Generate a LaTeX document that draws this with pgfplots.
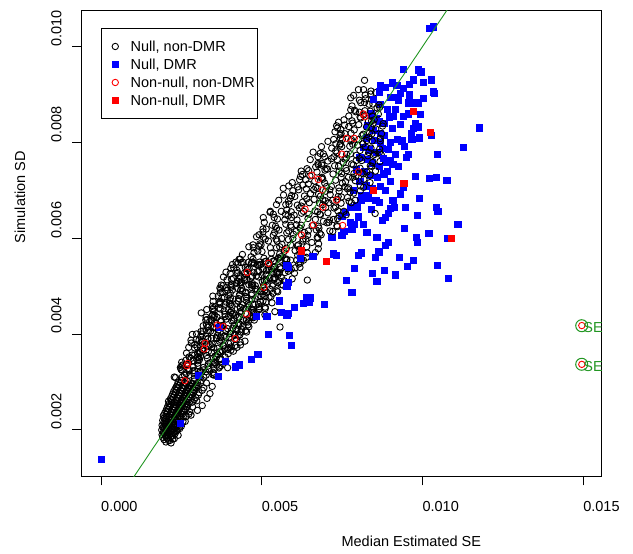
\documentclass[border=0pt]{standalone}
\usepackage{pgfplots}
\pgfplotsset{compat=1.18}
\usepackage{fontspec}
\setmainfont{Liberation Sans}
\definecolor{rgreen}{RGB}{34,150,34}
\definecolor{rblue}{RGB}{0,0,255}
\definecolor{rred}{RGB}{255,0,0}
\begin{document}
\begin{tikzpicture}[font=\fontsize{14.5bp}{17bp}\selectfont]
\path[use as bounding box] (0,0) rectangle (633bp,554bp);
\begin{axis}[
  at={(81.3bp,77.5bp)}, anchor=south west,
  scale only axis, width=520.2bp, height=466.2bp,
  xmin=-0.000613, xmax=0.015573, ymin=0.001029, ymax=0.010762,
  scaled ticks=false,
  axis line style={line width=1bp, black},
  xtick={0,0.005,0.01,0.015}, xticklabels={0.000,0.005,0.010,0.015},
  ytick={0.002,0.004,0.006,0.008,0.01}, yticklabels={0.002,0.004,0.006,0.008,0.010},
  tick pos=left, tick align=outside, major tick length=9bp,
  every tick/.style={black, line width=1bp},
  xticklabel style={anchor=north west, inner sep=0pt},
  yticklabel style={rotate=90, anchor=south west, inner sep=0pt},
  xticklabel shift=15.5bp, yticklabel shift=10.5bp,
  xlabel={Median Estimated SE}, ylabel={Simulation SD},
  xlabel style={at={(axis description cs:0.5,-0.1384)}, anchor=west, inner sep=0pt},
  ylabel style={at={(axis description cs:-0.1178,0.5)}, anchor=west, inner sep=0pt},
  legend style={at={(axis description cs:0.0379,0.9614)}, anchor=north west, draw=black, line width=1bp, fill=white, inner xsep=0pt, inner ysep=8.7bp, row sep=0pt, nodes={inner sep=0pt, text height=14.2bp, text depth=3.8bp}},
  legend cell align=left,
  legend image code/.code={\draw[#1] plot coordinates {(13.3bp,0bp)}; \path (0bp,0bp) (28.3bp,0bp);},
  clip mode=individual,
]
% Null, DMR points lying inside the dense cloud (drawn first)
\addplot[only marks, mark=square*, mark size=3.1bp, color=rblue, line width=0.5bp, forget plot] coordinates {
(0.00840,0.00860)(0.00855,0.00850)(0.00865,0.00845)(0.00830,0.00835)(0.00848,0.00825)(0.00870,0.00820)(0.00825,0.00810)(0.00850,0.00805)(0.00868,0.00800)(0.00882,0.00815)
(0.00815,0.00790)(0.00835,0.00785)(0.00858,0.00780)(0.00875,0.00788)(0.00805,0.00770)(0.00828,0.00765)(0.00845,0.00758)(0.00865,0.00750)(0.00885,0.00760)(0.00795,0.00745)
(0.00818,0.00740)(0.00838,0.00732)(0.00860,0.00728)(0.00880,0.00735)(0.00805,0.00720)(0.00825,0.00710)(0.00845,0.00705)(0.00785,0.00700)(0.00810,0.00690)(0.00830,0.00685)
(0.00855,0.00680)(0.00795,0.00670)(0.00775,0.00665)(0.00760,0.00655)(0.00800,0.00645)(0.00780,0.00620)(0.00755,0.00615)(0.00840,0.00660)(0.00865,0.00675)(0.00885,0.00700)
(0.00900,0.00720)(0.00870,0.00880)(0.00890,0.00870)(0.00880,0.00840)(0.00905,0.00830)(0.00910,0.00855)(0.00900,0.00800)(0.00915,0.00775)(0.00925,0.00750)(0.00890,0.00740)
(0.00885,0.00915)(0.00905,0.00925)(0.00955,0.00860)(0.00960,0.00900)(0.00915,0.00895)(0.00940,0.00855)(0.00965,0.00820)(0.00990,0.00810)(0.00955,0.00775)
(0.00749,0.00647)(0.00749,0.00606)(0.00718,0.00603)(0.00816,0.00630)(0.00775,0.00633)(0.00787,0.00629)(0.00827,0.00613)(0.00797,0.00665)(0.00808,0.00680)(0.00824,0.00690)
};
% Null, non-DMR
\addplot[only marks, mark=o, mark size=3.2bp, color=black, line width=0.9bp] coordinates {
(0.00202,0.00175)(0.00210,0.00178)(0.00218,0.00173)
(0.00196,0.00180)(0.00205,0.00183)(0.00214,0.00178)(0.00223,0.00181)
(0.00192,0.00185)(0.00200,0.00188)(0.00209,0.00183)(0.00217,0.00186)(0.00228,0.00182)
(0.00190,0.00190)(0.00198,0.00193)(0.00206,0.00188)(0.00213,0.00191)(0.00221,0.00187)(0.00230,0.00192)(0.00240,0.00189)
(0.00194,0.00195)(0.00202,0.00198)(0.00210,0.00193)(0.00218,0.00196)(0.00225,0.00192)(0.00234,0.00197)
(0.00189,0.00200)(0.00197,0.00203)(0.00205,0.00198)(0.00212,0.00201)(0.00220,0.00197)(0.00228,0.00202)(0.00236,0.00199)(0.00245,0.00203)
(0.00193,0.00205)(0.00201,0.00208)(0.00209,0.00203)(0.00216,0.00206)(0.00224,0.00202)(0.00232,0.00207)(0.00240,0.00204)(0.00250,0.00208)
(0.00190,0.00210)(0.00198,0.00213)(0.00206,0.00208)(0.00214,0.00211)(0.00222,0.00207)(0.00230,0.00212)(0.00238,0.00209)(0.00247,0.00213)
(0.00195,0.00215)(0.00203,0.00218)(0.00211,0.00213)(0.00219,0.00216)(0.00227,0.00212)(0.00235,0.00217)(0.00243,0.00214)(0.00255,0.00218)
(0.00192,0.00220)(0.00200,0.00223)(0.00208,0.00218)(0.00217,0.00221)(0.00225,0.00217)(0.00233,0.00222)(0.00241,0.00219)(0.00250,0.00223)(0.00262,0.00218)
(0.00196,0.00225)(0.00205,0.00228)(0.00213,0.00223)(0.00221,0.00226)(0.00229,0.00222)(0.00238,0.00227)(0.00246,0.00224)(0.00256,0.00228)
(0.00194,0.00230)(0.00203,0.00233)(0.00212,0.00228)(0.00220,0.00231)(0.00228,0.00227)(0.00236,0.00232)(0.00244,0.00229)(0.00253,0.00233)(0.00265,0.00228)(0.00280,0.00231)
(0.00198,0.00235)(0.00207,0.00238)(0.00216,0.00233)(0.00224,0.00236)(0.00232,0.00232)(0.00240,0.00237)(0.00249,0.00234)(0.00260,0.00238)(0.00273,0.00233)
(0.00202,0.00240)(0.00210,0.00243)(0.00218,0.00238)(0.00226,0.00241)(0.00235,0.00237)(0.00243,0.00242)(0.00252,0.00239)(0.00263,0.00243)(0.00276,0.00238)(0.00300,0.00241)
(0.00205,0.00245)(0.00214,0.00248)(0.00223,0.00243)(0.00231,0.00246)(0.00240,0.00242)(0.00248,0.00247)(0.00257,0.00244)(0.00268,0.00248)
(0.00208,0.00250)(0.00217,0.00253)(0.00225,0.00248)(0.00234,0.00251)(0.00242,0.00247)(0.00251,0.00252)(0.00260,0.00249)(0.00271,0.00253)(0.00285,0.00248)(0.00315,0.00251)
(0.00212,0.00255)(0.00220,0.00258)(0.00229,0.00253)(0.00238,0.00256)(0.00246,0.00252)(0.00255,0.00257)(0.00264,0.00254)(0.00275,0.00258)
(0.00210,0.00260)(0.00219,0.00263)(0.00228,0.00258)(0.00237,0.00261)(0.00245,0.00257)(0.00254,0.00262)(0.00263,0.00259)(0.00272,0.00263)(0.00284,0.00258)(0.00298,0.00261)
(0.00216,0.00265)(0.00225,0.00268)(0.00233,0.00263)(0.00242,0.00266)(0.00250,0.00262)(0.00259,0.00267)(0.00268,0.00264)(0.00278,0.00268)(0.00290,0.00263)(0.00330,0.00266)
(0.00220,0.00270)(0.00228,0.00273)(0.00237,0.00268)(0.00246,0.00271)(0.00255,0.00267)(0.00264,0.00272)(0.00273,0.00269)(0.00283,0.00273)(0.00295,0.00268)
(0.00223,0.00275)(0.00232,0.00278)(0.00241,0.00273)(0.00250,0.00276)(0.00259,0.00272)(0.00268,0.00277)(0.00277,0.00274)(0.00288,0.00278)(0.00303,0.00273)(0.00339,0.00276)
(0.00226,0.00280)(0.00235,0.00283)(0.00244,0.00278)(0.00253,0.00281)(0.00262,0.00277)(0.00271,0.00282)(0.00280,0.00279)(0.00291,0.00283)(0.00305,0.00278)
(0.00230,0.00285)(0.00239,0.00288)(0.00248,0.00283)(0.00257,0.00286)(0.00266,0.00282)(0.00276,0.00287)(0.00286,0.00284)(0.00298,0.00288)(0.00315,0.00283)
(0.00234,0.00290)(0.00243,0.00293)(0.00252,0.00288)(0.00261,0.00291)(0.00270,0.00287)(0.00280,0.00292)(0.00290,0.00289)(0.00302,0.00293)(0.00320,0.00288)(0.00346,0.00291)
(0.00238,0.00295)(0.00247,0.00298)(0.00256,0.00293)(0.00266,0.00296)(0.00275,0.00292)(0.00285,0.00297)(0.00296,0.00294)(0.00310,0.00298)
(0.00240,0.00300)(0.00250,0.00303)(0.00260,0.00298)(0.00270,0.00301)(0.00280,0.00297)(0.00290,0.00302)(0.00300,0.00299)(0.00312,0.00303)(0.00328,0.00298)
(0.00232,0.003095)(0.00253,0.003105)(0.00291,0.003075)(0.00306,0.003105)(0.00320,0.003105)(0.00352,0.003145)
(0.00252,0.003245)(0.00265,0.003175)(0.00286,0.003235)(0.00309,0.003215)(0.00326,0.003215)(0.00351,0.003185)
(0.00251,0.003335)(0.00272,0.003275)(0.00302,0.003345)(0.00319,0.003255)(0.00333,0.003335)(0.00367,0.003295)(0.00373,0.003345)
(0.00267,0.003365)(0.00286,0.003445)(0.00301,0.003445)(0.00334,0.003385)(0.00351,0.003405)(0.00360,0.003355)(0.00389,0.003435)
(0.00264,0.003455)(0.00300,0.003525)(0.00310,0.003545)(0.00331,0.003495)(0.00355,0.003545)(0.00369,0.003485)(0.00386,0.003525)
(0.00284,0.003565)(0.00301,0.003595)(0.00309,0.003615)(0.00334,0.003635)(0.00364,0.003575)(0.00372,0.003635)(0.00412,0.003645)
(0.00291,0.003715)(0.00299,0.003735)(0.00316,0.003685)(0.00345,0.003735)(0.00362,0.003705)(0.00385,0.003695)(0.00404,0.003665)(0.00423,0.003725)
(0.00281,0.003815)(0.00317,0.003845)(0.00340,0.003775)(0.00346,0.003795)(0.00382,0.003755)(0.00403,0.003815)(0.00418,0.003765)(0.00434,0.003775)
(0.00305,0.003875)(0.00315,0.003855)(0.00343,0.003915)(0.00359,0.003925)(0.00372,0.003945)(0.00399,0.003935)(0.00422,0.003895)(0.00448,0.003855)
(0.00314,0.004005)(0.00327,0.003955)(0.00348,0.004035)(0.00362,0.003975)(0.00385,0.003965)(0.00415,0.003975)(0.00432,0.003985)(0.00453,0.004045)
(0.00311,0.004055)(0.00341,0.004065)(0.00349,0.004135)(0.00374,0.004135)(0.00389,0.004065)(0.00410,0.004125)(0.00437,0.004105)(0.00450,0.004075)
(0.00328,0.004195)(0.00334,0.004155)(0.00357,0.004225)(0.00374,0.004165)(0.00414,0.004185)(0.00433,0.004205)(0.00441,0.004165)(0.00460,0.004155)
(0.00330,0.004305)(0.00351,0.004345)(0.00374,0.004295)(0.00390,0.004315)(0.00407,0.004275)(0.00443,0.004295)(0.00462,0.004345)(0.00477,0.004295)
(0.00346,0.004385)(0.00354,0.004395)(0.00386,0.004365)(0.00409,0.004415)(0.00419,0.004395)(0.00436,0.004435)(0.00470,0.004365)(0.00474,0.004445)(0.00510,0.004405)
(0.00348,0.004515)(0.00367,0.004545)(0.00383,0.004485)(0.00406,0.004495)(0.00432,0.004465)(0.00444,0.004535)(0.00469,0.004525)(0.00493,0.004515)(0.00511,0.004535)
(0.00347,0.004585)(0.00370,0.004625)(0.00402,0.004615)(0.00421,0.004635)(0.00433,0.004565)(0.00461,0.004605)(0.00473,0.004625)(0.00492,0.004575)(0.00511,0.004565)
(0.00370,0.004655)(0.00391,0.004665)(0.00401,0.004705)(0.00427,0.004695)(0.00452,0.004705)(0.00469,0.004715)(0.00496,0.004675)(0.00504,0.004695)(0.00532,0.004655)
(0.00365,0.004795)(0.00397,0.004815)(0.00403,0.004755)(0.00430,0.004805)(0.00451,0.004785)(0.00468,0.004815)(0.00498,0.004795)(0.00523,0.004775)(0.00529,0.004785)
(0.00373,0.004945)(0.00394,0.004915)(0.00409,0.004925)(0.00434,0.004915)(0.00451,0.004875)(0.00480,0.004945)(0.00495,0.004895)(0.00516,0.004875)(0.00550,0.004885)
(0.00390,0.004975)(0.00404,0.005005)(0.00434,0.005025)(0.00438,0.004955)(0.00472,0.005015)(0.00480,0.005015)(0.00507,0.004965)(0.00533,0.005005)(0.00560,0.005035)(0.00566,0.005025)
(0.00392,0.005135)(0.00422,0.005065)(0.00437,0.005075)(0.00447,0.005145)(0.00472,0.005055)(0.00508,0.005115)(0.00514,0.005135)(0.00535,0.005145)(0.00556,0.005105)(0.00581,0.005055)
(0.00412,0.005165)(0.00429,0.005165)(0.00446,0.005185)(0.00469,0.005195)(0.00483,0.005215)(0.00513,0.005235)(0.00538,0.005175)(0.00551,0.005245)(0.00561,0.005185)(0.00595,0.005155)
(0.00402,0.005265)(0.00425,0.005285)(0.00450,0.005255)(0.00476,0.005285)(0.00486,0.005305)(0.00515,0.005335)(0.00545,0.005275)(0.00549,0.005295)(0.00583,0.005315)(0.00602,0.005275)
(0.00413,0.005385)(0.00449,0.005395)(0.00455,0.005395)(0.00487,0.005445)(0.00506,0.005365)(0.00535,0.005395)(0.00539,0.005405)(0.00560,0.005365)(0.00592,0.005355)(0.00619,0.005395)
(0.00426,0.005485)(0.00441,0.005505)(0.00477,0.005475)(0.00498,0.005455)(0.00510,0.005515)(0.00536,0.005525)(0.00557,0.005545)(0.00578,0.005545)(0.00590,0.005545)(0.00620,0.005485)(0.00630,0.005545)
(0.00348,0.003155)(0.00327,0.003145)(0.00289,0.003175)(0.00274,0.003145)(0.00260,0.003145)(0.00228,0.003105)
(0.00348,0.003205)(0.00335,0.003275)(0.00314,0.003215)(0.00291,0.003235)(0.00274,0.003235)(0.00249,0.003265)
(0.00369,0.003315)(0.00348,0.003375)(0.00318,0.003305)(0.00301,0.003395)(0.00287,0.003315)(0.00253,0.003355)(0.00247,0.003305)
(0.00373,0.003485)(0.00354,0.003405)(0.00339,0.003405)(0.00306,0.003465)(0.00289,0.003445)(0.00280,0.003495)(0.00251,0.003415)
(0.00396,0.003595)(0.00360,0.003525)(0.00350,0.003505)(0.00329,0.003555)(0.00305,0.003505)(0.00291,0.003565)(0.00274,0.003525)
(0.00394,0.003685)(0.00377,0.003655)(0.00369,0.003635)(0.00344,0.003615)(0.00314,0.003675)(0.00306,0.003615)(0.00266,0.003605)
(0.00405,0.003735)(0.00397,0.003715)(0.00380,0.003765)(0.00351,0.003715)(0.00334,0.003745)(0.00311,0.003755)(0.00292,0.003785)(0.00273,0.003725)
(0.00433,0.003835)(0.00397,0.003805)(0.00374,0.003875)(0.00368,0.003855)(0.00332,0.003895)(0.00311,0.003835)(0.00296,0.003885)(0.00280,0.003875)
(0.00427,0.003975)(0.00417,0.003995)(0.00389,0.003935)(0.00373,0.003925)(0.00360,0.003905)(0.00333,0.003915)(0.00310,0.003955)(0.00284,0.003995)
(0.00436,0.004045)(0.00423,0.004095)(0.00402,0.004015)(0.00388,0.004075)(0.00365,0.004085)(0.00335,0.004075)(0.00318,0.004065)(0.00297,0.004005)
(0.00457,0.004195)(0.00427,0.004185)(0.00419,0.004115)(0.00394,0.004115)(0.00379,0.004185)(0.00358,0.004125)(0.00331,0.004145)(0.00318,0.004175)
(0.00458,0.004255)(0.00452,0.004295)(0.00429,0.004225)(0.00412,0.004285)(0.00372,0.004265)(0.00353,0.004245)(0.00345,0.004285)(0.00326,0.004295)
(0.00474,0.004345)(0.00453,0.004305)(0.00430,0.004355)(0.00414,0.004335)(0.00397,0.004375)(0.00361,0.004355)(0.00342,0.004305)(0.00327,0.004355)
(0.00476,0.004465)(0.00468,0.004455)(0.00436,0.004485)(0.00413,0.004435)(0.00403,0.004455)(0.00386,0.004415)(0.00352,0.004485)(0.00348,0.004405)(0.00312,0.004445)
(0.00492,0.004535)(0.00473,0.004505)(0.00457,0.004565)(0.00434,0.004555)(0.00408,0.004585)(0.00396,0.004515)(0.00371,0.004525)(0.00347,0.004535)(0.00329,0.004515)
(0.00513,0.004665)(0.00490,0.004625)(0.00458,0.004635)(0.00439,0.004615)(0.00427,0.004685)(0.00399,0.004645)(0.00387,0.004625)(0.00368,0.004675)(0.00349,0.004685)
(0.00510,0.004795)(0.00489,0.004785)(0.00479,0.004745)(0.00453,0.004755)(0.00428,0.004745)(0.00411,0.004735)(0.00384,0.004775)(0.00376,0.004755)(0.00348,0.004795)
(0.00535,0.004855)(0.00503,0.004835)(0.00497,0.004895)(0.00470,0.004845)(0.00449,0.004865)(0.00432,0.004835)(0.00402,0.004855)(0.00377,0.004875)(0.00371,0.004865)
(0.00547,0.004905)(0.00526,0.004935)(0.00511,0.004925)(0.00486,0.004935)(0.00469,0.004975)(0.00440,0.004905)(0.00425,0.004955)(0.00404,0.004975)(0.00370,0.004965)
(0.00550,0.005075)(0.00536,0.005045)(0.00506,0.005025)(0.00502,0.005095)(0.00468,0.005035)(0.00460,0.005035)(0.00433,0.005085)(0.00407,0.005045)(0.00380,0.005015)(0.00374,0.005025)
(0.00570,0.005115)(0.00540,0.005185)(0.00525,0.005175)(0.00515,0.005105)(0.00490,0.005195)(0.00454,0.005135)(0.00448,0.005115)(0.00427,0.005105)(0.00406,0.005145)(0.00381,0.005195)
(0.00572,0.005285)(0.00555,0.005285)(0.00538,0.005265)(0.00515,0.005255)(0.00501,0.005235)(0.00471,0.005215)(0.00446,0.005275)(0.00433,0.005205)(0.00423,0.005265)(0.00389,0.005295)
(0.00604,0.005385)(0.00581,0.005365)(0.00556,0.005395)(0.00530,0.005365)(0.00520,0.005345)(0.00491,0.005315)(0.00461,0.005375)(0.00457,0.005355)(0.00423,0.005335)(0.00404,0.005375)
(0.00615,0.005465)(0.00579,0.005455)(0.00573,0.005455)(0.00541,0.005405)(0.00522,0.005485)(0.00493,0.005455)(0.00489,0.005445)(0.00468,0.005485)(0.00436,0.005495)(0.00409,0.005455)
(0.00624,0.005565)(0.00609,0.005545)(0.00573,0.005575)(0.00552,0.005595)(0.00540,0.005535)(0.00514,0.005525)(0.00493,0.005505)(0.00472,0.005505)(0.00460,0.005505)(0.00430,0.005565)(0.00420,0.005505)
(0.00433,0.005565)(0.00467,0.005615)(0.00473,0.005565)(0.00507,0.005585)(0.00530,0.005565)(0.00553,0.005585)(0.00559,0.005615)(0.00578,0.005565)(0.00612,0.005645)(0.00624,0.005565)(0.00639,0.005605)
(0.00440,0.005665)(0.00476,0.005705)(0.00488,0.005735)(0.00501,0.005725)(0.00530,0.005695)(0.00556,0.005675)(0.00570,0.005725)(0.00604,0.005745)(0.00619,0.005675)(0.00642,0.005695)(0.00667,0.005705)
(0.00460,0.005825)(0.00474,0.005805)(0.00491,0.005835)(0.00527,0.005805)(0.00546,0.005805)(0.00556,0.005825)(0.00577,0.005795)(0.00611,0.005845)(0.00617,0.005775)(0.00640,0.005825)(0.00676,0.005785)
(0.00473,0.005865)(0.00494,0.005885)(0.00498,0.005865)(0.00521,0.005945)(0.00548,0.005945)(0.00563,0.005875)(0.00590,0.005865)(0.00614,0.005865)(0.00628,0.005945)(0.00656,0.005915)(0.00677,0.005885)
(0.00484,0.006035)(0.00505,0.006025)(0.00511,0.005985)(0.00545,0.005985)(0.00562,0.005995)(0.00583,0.005975)(0.00597,0.005995)(0.00629,0.005985)(0.00637,0.005985)(0.00673,0.006025)(0.00675,0.006005)
(0.00492,0.006075)(0.00504,0.006135)(0.00536,0.006065)(0.00540,0.006125)(0.00578,0.006115)(0.00599,0.006085)(0.00607,0.006145)(0.00633,0.006125)(0.00643,0.006065)(0.00681,0.006105)(0.00685,0.006075)(0.00721,0.006145)
(0.00504,0.006195)(0.00514,0.006195)(0.00546,0.006205)(0.00554,0.006175)(0.00584,0.006155)(0.00592,0.006235)(0.00619,0.006215)(0.00645,0.006155)(0.00670,0.006175)(0.00678,0.006215)(0.00712,0.006155)(0.00735,0.006245)
(0.00508,0.006335)(0.00533,0.006275)(0.00543,0.006255)(0.00575,0.006295)(0.00590,0.006275)(0.00608,0.006285)(0.00623,0.006275)(0.00657,0.006265)(0.00676,0.006255)(0.00703,0.006325)(0.00709,0.006335)(0.00734,0.006265)
(0.00505,0.006435)(0.00539,0.006435)(0.00549,0.006405)(0.00572,0.006385)(0.00593,0.006435)(0.00610,0.006385)(0.00644,0.006415)(0.00667,0.006395)(0.00692,0.006355)(0.00711,0.006385)(0.00723,0.006395)(0.00736,0.006415)
(0.00526,0.006545)(0.00536,0.006505)(0.00574,0.006505)(0.00582,0.006475)(0.00601,0.006485)(0.00624,0.006525)(0.00647,0.006505)(0.00681,0.006505)(0.00683,0.006495)(0.00706,0.006535)(0.00742,0.006475)(0.00763,0.006495)
(0.00527,0.006565)(0.00561,0.006565)(0.00578,0.006595)(0.00592,0.006555)(0.00617,0.006635)(0.00630,0.006565)(0.00666,0.006575)(0.00674,0.006555)(0.00699,0.006645)(0.00725,0.006635)(0.00737,0.006575)(0.00756,0.006565)
(0.00546,0.006705)(0.00575,0.006705)(0.00585,0.006715)(0.00611,0.006695)(0.00623,0.006675)(0.00648,0.006745)(0.00680,0.006735)(0.00690,0.006705)(0.00709,0.006745)(0.00730,0.006655)(0.00747,0.006735)(0.00779,0.006745)
(0.00553,0.006795)(0.00583,0.006775)(0.00589,0.006835)(0.00627,0.006755)(0.00640,0.006825)(0.00663,0.006815)(0.00690,0.006805)(0.00698,0.006785)(0.00721,0.006795)(0.00736,0.006815)(0.00772,0.006775)(0.00791,0.006795)
(0.00568,0.006905)(0.00593,0.006895)(0.00603,0.006875)(0.00633,0.006885)(0.00652,0.006935)(0.00677,0.006925)(0.00683,0.006885)(0.00713,0.006915)(0.00738,0.006875)(0.00748,0.006865)(0.00767,0.006855)(0.00786,0.006945)
(0.00567,0.007045)(0.00597,0.006995)(0.00615,0.007015)(0.00639,0.007035)(0.00662,0.007015)(0.00674,0.007045)(0.00699,0.006985)(0.00712,0.007015)(0.00741,0.006985)(0.00767,0.007035)(0.00775,0.006965)(0.00807,0.006995)
(0.00584,0.007095)(0.00612,0.007075)(0.00628,0.007115)(0.00645,0.007135)(0.00668,0.007065)(0.00702,0.007085)(0.00717,0.007085)(0.00740,0.007055)(0.00759,0.007075)(0.00771,0.007055)(0.00807,0.007095)(0.00817,0.007065)
(0.00595,0.007165)(0.00618,0.007225)(0.00637,0.007225)(0.00665,0.007195)(0.00690,0.007235)(0.00696,0.007155)(0.00730,0.007215)(0.00751,0.007155)(0.00761,0.007185)(0.00791,0.007205)(0.00818,0.007235)(0.00837,0.007165)
(0.00621,0.007295)(0.00627,0.007335)(0.00650,0.007305)(0.00686,0.007255)(0.00688,0.007275)(0.00722,0.007345)(0.00747,0.007275)(0.00770,0.007275)(0.00783,0.007275)(0.00793,0.007295)(0.00816,0.007345)(0.00837,0.007325)
(0.00623,0.007405)(0.00646,0.007415)(0.00672,0.007385)(0.00697,0.007425)(0.00705,0.007445)(0.00741,0.007405)(0.00749,0.007355)(0.00764,0.007415)(0.00787,0.007355)(0.00812,0.007365)(0.00827,0.007385)(0.00854,0.007405)
(0.00641,0.007455)(0.00668,0.007495)(0.00676,0.007535)(0.00701,0.007455)(0.00727,0.007515)(0.00739,0.007505)(0.00762,0.007465)(0.00785,0.007535)(0.00806,0.007465)(0.00838,0.007515)(0.00842,0.007505)
(0.00651,0.007645)(0.00675,0.007565)(0.00687,0.007565)(0.00706,0.007615)(0.00735,0.007645)(0.00754,0.007585)(0.00780,0.007555)(0.00794,0.007625)(0.00811,0.007625)(0.00845,0.007585)(0.00868,0.007605)
(0.00675,0.007705)(0.00696,0.007705)(0.00717,0.007665)(0.00725,0.007705)(0.00759,0.007655)(0.00763,0.007675)(0.00795,0.007735)(0.00805,0.007665)(0.00830,0.007725)(0.00847,0.007735)(0.00872,0.007745)
(0.00682,0.007775)(0.00692,0.007765)(0.00730,0.007825)(0.00734,0.007785)(0.00764,0.007755)(0.00776,0.007765)(0.00806,0.007835)(0.00833,0.007795)(0.00852,0.007755)(0.00866,0.007795)
(0.00686,0.007915)(0.00718,0.007885)(0.00743,0.007945)(0.00749,0.007915)(0.00774,0.007925)(0.00798,0.007945)(0.00823,0.007915)(0.00840,0.007885)(0.00867,0.007865)
(0.00706,0.008025)(0.00731,0.007975)(0.00745,0.007975)(0.00777,0.008035)(0.00783,0.007965)(0.00815,0.007975)(0.00827,0.008045)(0.00844,0.008035)(0.00869,0.008035)
(0.00724,0.008065)(0.00745,0.008095)(0.00751,0.008065)(0.00779,0.008065)(0.00802,0.008065)(0.00812,0.008145)(0.00833,0.008115)(0.00869,0.008085)
(0.00728,0.008225)(0.00747,0.008185)(0.00759,0.008185)(0.00778,0.008195)(0.00816,0.008175)(0.00835,0.008195)(0.00843,0.008185)(0.00873,0.008185)
(0.00736,0.008305)(0.00746,0.008275)(0.00771,0.008335)(0.00788,0.008265)(0.00826,0.008325)(0.00841,0.008315)(0.00855,0.008285)(0.00876,0.008345)
(0.00739,0.008425)(0.00758,0.008365)(0.00783,0.008405)(0.00802,0.008375)(0.00832,0.008445)(0.00846,0.008395)(0.00878,0.008395)
(0.00756,0.008475)(0.00781,0.008455)(0.00806,0.008535)(0.00808,0.008515)(0.00842,0.008455)(0.00850,0.008475)
(0.00771,0.008555)(0.00792,0.008645)(0.00804,0.008635)(0.00817,0.008575)(0.00844,0.008555)(0.00863,0.008595)
(0.00777,0.008685)(0.00789,0.008675)(0.00821,0.008665)(0.00838,0.008655)(0.00859,0.008725)(0.00867,0.008735)
(0.00781,0.008765)(0.00808,0.008835)(0.00820,0.008835)(0.00846,0.008805)(0.00865,0.008785)
(0.00777,0.008935)(0.00804,0.008885)(0.00823,0.008915)(0.00842,0.008895)
(0.00786,0.008985)(0.00822,0.008995)(0.00839,0.009015)(0.00855,0.009045)
(0.00801,0.009105)(0.00817,0.009105)(0.00840,0.009075)
(0.00820,0.00930)(0.00834,0.00880)(0.00733,0.00835)(0.00744,0.00816)(0.00660,0.00780)(0.00687,0.00753)(0.00642,0.00513)(0.00541,0.00447)(0.00557,0.00415)(0.00394,0.00330)(0.00853,0.00652)
};
\addlegendentry{\makebox[126.7bp][l]{Null, non-DMR}}
% Null, DMR
\addplot[only marks, mark=square*, mark size=3.1bp, color=rblue, line width=0.5bp] coordinates {
(0.00000,0.00139)
(0.01021,0.01039)(0.01034,0.01042)
(0.00941,0.00953)(0.00987,0.00952)(0.00995,0.00948)(0.00972,0.00931)(0.01027,0.00931)(0.01003,0.00926)(0.00868,0.00920)(0.00920,0.00920)(0.00959,0.00922)(0.00941,0.00913)
(0.01034,0.00906)(0.01037,0.00903)(0.00866,0.00906)(0.00930,0.00903)(0.00899,0.00895)(0.00847,0.00890)(0.00925,0.00889)(0.01003,0.00892)(0.00956,0.00883)(0.00972,0.00883)
(0.00987,0.00883)(0.00915,0.00870)(0.00993,0.00859)(0.00897,0.00854)(0.00930,0.00839)(0.00977,0.00840)(0.00987,0.00833)(0.00972,0.00830)(0.01176,0.00831)(0.01027,0.00816)
(0.00967,0.00807)(0.00922,0.00807)(0.00936,0.00804)(0.01127,0.00791)(0.00894,0.00786)(0.00943,0.00793)(0.01045,0.00776)(0.00949,0.00769)(0.00899,0.00762)(0.00908,0.00755)
(0.00878,0.00767)(0.00977,0.00730)(0.01021,0.00725)(0.01042,0.00728)(0.01076,0.00722)(0.00941,0.00708)(0.00868,0.00709)(0.00930,0.00693)(0.00989,0.00684)(0.00908,0.00680)
(0.00947,0.00665)(0.00899,0.00663)(0.00912,0.00665)(0.01043,0.00665)(0.01048,0.00657)(0.00984,0.00649)(0.00894,0.00652)(0.00884,0.00644)(0.00876,0.00638)(0.01110,0.00630)
(0.00944,0.00621)(0.01020,0.00611)(0.00982,0.00602)(0.00985,0.00592)(0.01077,0.00601)(0.00858,0.00602)(0.00894,0.00592)(0.00884,0.00586)(0.00864,0.00572)(0.00810,0.00570)
(0.00801,0.00565)(0.00853,0.00560)(0.00929,0.00561)(0.00972,0.00555)(0.00953,0.00542)(0.01046,0.00544)(0.00788,0.00538)(0.00844,0.00528)(0.00881,0.00533)(0.00916,0.00524)
(0.01080,0.00517)(0.00764,0.00512)(0.00858,0.00510)(0.00780,0.00487)(0.00640,0.00477)(0.00652,0.00476)
(0.00722,0.00568)(0.00733,0.00565)(0.00659,0.00562)
(0.00619,0.00559)(0.00578,0.00544)(0.00583,0.00540)(0.00583,0.00508)(0.00578,0.00501)(0.00629,0.00465)(0.00648,0.00467)(0.00695,0.00463)(0.00601,0.00456)(0.00555,0.00470)
(0.00562,0.00446)(0.00578,0.00440)(0.00583,0.00444)(0.00484,0.00437)(0.00516,0.00437)(0.00521,0.00400)(0.00586,0.00398)(0.00593,0.00377)(0.00488,0.00358)(0.00467,0.00348)
(0.00429,0.00336)(0.00417,0.00332)(0.00386,0.00343)(0.00365,0.00313)(0.00303,0.00315)(0.00367,0.00414)(0.00246,0.00214)
};
\addlegendentry{\makebox[126.7bp][l]{Null, DMR}}
% Non-null, non-DMR
\addplot[only marks, mark=o, mark size=3.2bp, color=rred, line width=0.9bp] coordinates {
(0.00270,0.00339)(0.00267,0.00334)(0.00324,0.00381)(0.00321,0.00369)(0.00362,0.00419)(0.00381,0.00416)(0.00455,0.00529)(0.00417,0.00391)(0.00507,0.00498)(0.00453,0.00442)
(0.00521,0.00548)(0.00575,0.00576)(0.00261,0.00303)(0.00656,0.00732)(0.00676,0.00723)(0.00749,0.00776)(0.00635,0.00661)(0.00661,0.00628)(0.00733,0.00680)(0.00752,0.00627)
(0.00689,0.00701)(0.00801,0.00739)(0.00821,0.00854)(0.00816,0.00860)(0.00764,0.00809)(0.00788,0.00809)(0.00624,0.00607)(0.00691,0.00665)
(0.01496,0.00418)(0.01496,0.00337)
};
\addlegendentry{\makebox[126.7bp][l]{Non-null, non-DMR}}
% Non-null, DMR
\addplot[only marks, mark=square*, mark size=3.1bp, color=rred, line width=0.5bp] coordinates {
(0.00972,0.00866)(0.01025,0.00822)(0.00942,0.00715)(0.01091,0.00601)(0.00702,0.00552)(0.00847,0.00701)(0.00624,0.00574)
};
\addlegendentry{\makebox[126.7bp][l]{Non-null, DMR}}
% identity line
\addplot[rgreen, line width=0.9bp, forget plot] coordinates {(0.0005,0.0005) (0.0112,0.0112)};
% SE markers
\addplot[only marks, mark=o, mark size=6bp, color=rgreen, line width=1bp, forget plot] coordinates {(0.014957,0.004177) (0.014957,0.003372)};
\node[anchor=west, inner sep=0pt, text=rgreen, yshift=-1.8bp, xshift=1.5bp] at (axis cs:0.014957,0.004177) {SE};
\node[anchor=west, inner sep=0pt, text=rgreen, yshift=-1.8bp, xshift=1.5bp] at (axis cs:0.014957,0.003372) {SE};
\end{axis}
\end{tikzpicture}
\end{document}
